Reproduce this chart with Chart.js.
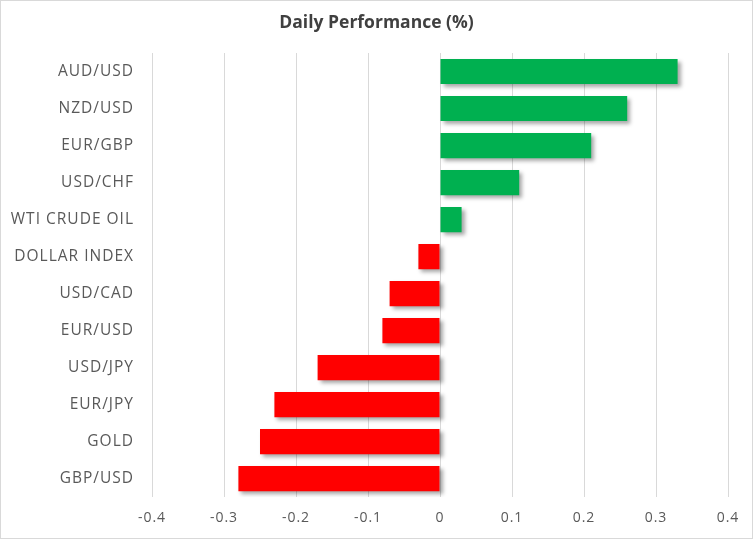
<!DOCTYPE html>
<html>
<head>
<meta charset="utf-8">
<script src="https://cdn.jsdelivr.net/npm/chart.js@4/dist/chart.umd.min.js"></script>
<style>
  html, body { margin: 0; padding: 0; background: #fff; }
  #wrap { width: 753px; height: 539px; box-sizing: border-box; border: 1px solid #d9d9d9; position: relative; }
  canvas { display: block; }
</style>
</head>
<body>
<div id="wrap"><canvas id="c" width="751" height="537"></canvas></div>
<script>
const categories = ["AUD/USD","NZD/USD","EUR/GBP","USD/CHF","WTI CRUDE OIL","DOLLAR INDEX","USD/CAD","EUR/USD","USD/JPY","EUR/JPY","GOLD","GBP/USD"];
const values = [0.33, 0.26, 0.21, 0.11, 0.03, -0.03, -0.07, -0.08, -0.17, -0.23, -0.25, -0.28];
const tickLabels = ["-0.4","-0.3","-0.2","-0.1","0","0.1","0.2","0.3","0.4"];
const titleText = "Daily Performance (%)";

const FONT = "'Open Sans', 'Noto Sans', sans-serif";
const LABEL_SPACING = '1px';

const stylePlugin = {
  id: 'styleTweaks',
  beforeLayout(chart) { chart.ctx.letterSpacing = LABEL_SPACING; },
  beforeDraw(chart) { chart.ctx.letterSpacing = '0px'; },
  beforeDatasetsDraw(chart) {
    const ctx = chart.ctx;
    ctx.save();
    ctx.shadowColor = 'rgba(0,0,0,0.35)';
    ctx.shadowBlur = 4;
    ctx.shadowOffsetX = 3;
    ctx.shadowOffsetY = 3;
  },
  afterDatasetsDraw(chart) {
    chart.ctx.restore();
    chart.ctx.letterSpacing = LABEL_SPACING;
  },
  afterDraw(chart) { chart.ctx.letterSpacing = '0px'; }
};

new Chart(document.getElementById('c'), {
  type: 'bar',
  data: {
    labels: categories,
    datasets: [{
      data: values,
      backgroundColor: values.map(v => v >= 0 ? '#00B050' : '#FF0000'),
      borderWidth: 0,
      categoryPercentage: 1.0,
      barPercentage: 0.68
    }]
  },
  options: {
    indexAxis: 'y',
    responsive: false,
    animation: false,
    devicePixelRatio: 1,
    layout: { padding: 0 },
    plugins: {
      legend: { display: false },
      tooltip: { enabled: false },
      title: {
        display: true,
        text: titleText,
        color: '#404040',
        font: { family: FONT, size: 17.5, weight: 'bold' },
        padding: { top: 12, bottom: 19 }
      }
    },
    scales: {
      x: {
        min: -0.4,
        max: 0.4,
        ticks: {
          z: 1,
          stepSize: 0.1,
          color: '#595959',
          font: { family: FONT, size: 14 },
          padding: 12,
          callback: (v, i) => tickLabels[i]
        },
        grid: { color: '#d9d9d9', lineWidth: 1, drawTicks: false },
        border: { display: false },
        afterFit(scale) { scale.paddingRight = 24; }
      },
      y: {
        ticks: {
          z: 1,
          color: '#595959',
          font: { family: FONT, size: 15.5 },
          padding: 18
        },
        grid: { display: false, drawTicks: false },
        border: { display: false },
        afterFit(scale) { scale.width = 151; }
      }
    }
  },
  plugins: [stylePlugin]
});
</script>
</body>
</html>
